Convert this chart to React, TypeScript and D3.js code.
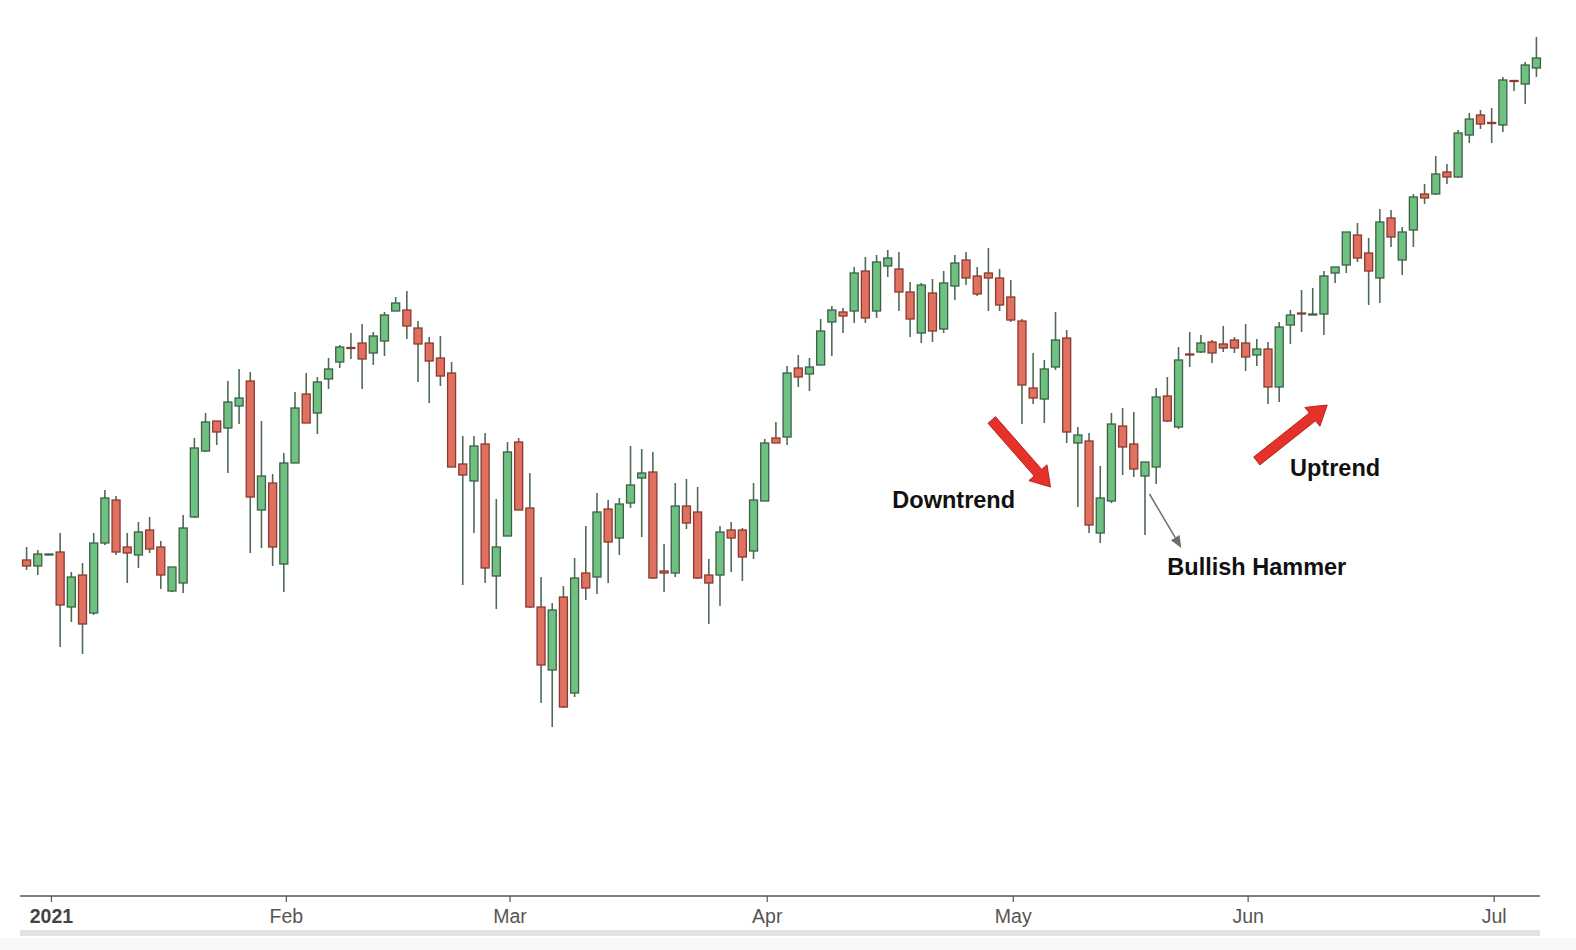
import React from 'react';
import * as d3 from 'd3';

// Trading calendar (weekdays) from first to last candle
const START_DATE = '2020-12-30';
const END_DATE = '2021-07-07';

const opens = [
  440, 434, 446, 448, 393, 425, 387, 457, 500, 453,
  445, 470, 453, 409, 417, 483, 549, 579, 572, 594,
  619, 490, 517, 436, 537, 606, 587, 621, 638, 652.5,
  657, 647, 659, 689, 690, 672, 657, 642, 627, 536,
  519, 556, 424, 464, 558, 492, 393, 330, 403, 307,
  427, 423, 491, 462, 497, 522, 528, 429, 427, 494,
  488, 425, 425, 470, 470, 449, 499, 562, 563, 632,
  626, 635, 678, 688, 689, 729, 689, 734, 731, 708,
  667, 707, 671, 714, 740, 724, 727, 722, 703, 679,
  612, 601, 633, 662, 557, 559, 467, 499, 574, 556,
  524, 533, 604, 573, 646, 648, 658, 656, 660, 657,
  645, 651, 613, 675, 687, 686, 686, 727, 735, 765,
  747, 722, 782, 740, 770, 806, 806, 828, 823, 865,
  885, 877.5, 875, 919.5, 916, 932,
];

const highs = [
  453, 450, 446, 467, 428, 437, 467, 510, 504, 467,
  478, 483, 459, 433, 485, 562, 587, 579, 619, 631,
  628, 579, 526, 547, 608, 627, 623, 642, 655, 667,
  676, 668, 688, 703, 709, 679, 663, 664, 638, 564,
  564, 567, 501, 558, 562, 527, 423, 397, 414, 442,
  474, 507, 500, 502, 554, 551, 548, 456, 517, 521,
  513, 441, 474, 478, 472, 517, 561, 578, 634, 645,
  642, 681, 694, 692, 733, 743, 745, 750, 748, 718,
  717, 721, 729, 745, 748, 733, 752, 731, 720, 681,
  647, 640, 688, 670, 573, 567, 534, 587, 592, 588,
  538, 612, 623, 653, 668, 665, 660, 674, 663, 676,
  661, 658, 678, 690, 710, 712, 729, 733, 768, 777,
  762, 791, 790, 773, 806, 816, 844, 836, 870, 887,
  890, 892, 923, 919.5, 938, 963,
];

const lows = [
  430, 425, 446, 353, 378, 346, 385, 455, 445, 417,
  432, 447, 411, 408, 407, 482, 548, 555, 527, 576,
  447, 452, 434, 408, 537, 577, 566, 611, 632, 641,
  611, 635, 644, 689, 661, 618, 597, 614, 533, 415,
  467, 417, 391, 464, 490, 392, 297, 273, 292, 303,
  400, 406, 417, 445, 492, 463, 421, 408, 423, 471,
  421, 376, 394, 428, 419, 441, 499, 557, 555, 613,
  609, 635, 644, 667, 677, 677, 682, 723, 689, 663,
  657, 658, 667, 700, 715, 704, 689, 689, 678, 576,
  596, 577, 630, 557, 493, 467, 457, 497, 525, 523,
  465, 516, 578, 571, 633, 647, 637, 648, 647, 629,
  634, 596, 598, 656, 668, 686, 665, 717, 727, 738,
  695, 697, 753, 725, 753, 796, 805, 816, 822, 857,
  871, 857, 868, 909, 896, 923,
];

const closes = [
  434, 446, 446, 395, 423, 376, 457, 502, 448, 447,
  468, 451, 425, 433, 472, 552, 578, 568, 598, 602,
  503, 524, 453, 537, 592, 577, 618, 631, 653, 652,
  641, 664, 685, 697, 674, 656, 639, 624, 533, 525,
  554, 432, 453, 548, 490, 393, 335, 390, 293, 422,
  412, 488, 458, 496, 515, 527, 422, 427, 494, 477,
  422, 417, 468, 462, 443, 500, 557, 557, 627, 623,
  633, 669, 690, 684, 727, 682, 738, 742, 708, 681,
  715, 669, 717, 737, 722, 706, 722, 695, 680, 615,
  602, 631, 660, 568, 565, 475, 502, 576, 553, 531,
  538, 603, 579, 640, 645, 657, 647, 652, 652, 643,
  651, 613, 673, 685, 686, 686, 724, 733, 768, 742,
  729, 778, 763, 768, 803, 802, 826, 823, 867, 881,
  876, 877, 920, 919, 935, 942,
];

const tickDates = ['2021-01-01', '2021-02-01', '2021-03-01', '2021-04-01', '2021-05-03', '2021-06-01', '2021-07-01'];
const tickLabels = ['2021', 'Feb', 'Mar', 'Apr', 'May', 'Jun', 'Jul'];

// Annotations in data space: [candle index, price]
const arrowDownFrom = [86.3, 580];
const arrowDownTo = [91.55, 513];
const arrowUpFrom = [110.0, 539];
const arrowUpTo = [116.3, 595];
const hammerArrowFrom = [100.4, 506];
const hammerArrowTo = [103.25, 452];
const labelTexts = ['Downtrend', 'Uptrend', 'Bullish Hammer'];
const labelPos = [[82.9, 492], [117.0, 524], [110.0, 425]];

const W = 1576;
const H = 950;

const GREEN_FILL = '#6fc181';
const GREEN_STROKE = '#3d5f47';
const RED_FILL = '#e0705f';
const RED_STROKE = '#8a3a2f';
const WICK = '#506a58';

function fatArrow(x1: number, y1: number, x2: number, y2: number, sw: number, hw: number, hl: number) {
  const dx = x2 - x1, dy = y2 - y1;
  const len = Math.hypot(dx, dy);
  const ux = dx / len, uy = dy / len;
  const nx = -uy, ny = ux;
  const bx = x2 - ux * hl, by = y2 - uy * hl;
  const pts = [
    [x1 + nx * sw, y1 + ny * sw],
    [bx + nx * sw, by + ny * sw],
    [bx + nx * hw, by + ny * hw],
    [x2, y2],
    [bx - nx * hw, by - ny * hw],
    [bx - nx * sw, by - ny * sw],
    [x1 - nx * sw, y1 - ny * sw],
  ];
  return 'M' + pts.map((p) => p[0].toFixed(2) + ',' + p[1].toFixed(2)).join('L') + 'Z';
}

export default function App() {
  const fmt = d3.utcFormat('%Y-%m-%d');
  const dates = d3
    .utcDays(new Date(START_DATE + 'T00:00:00Z'), d3.utcDay.offset(new Date(END_DATE + 'T00:00:00Z'), 1))
    .filter((d) => d.getUTCDay() !== 0 && d.getUTCDay() !== 6)
    .map(fmt);

  const x = d3.scaleBand<string>().domain(dates).range([21, 1542]).padding(0);
  const step = x.step();
  const cx = (d: string) => (x(d) as number) + step / 2;
  const idx = d3.scaleLinear().domain([0, dates.length - 1]).range([cx(dates[0]), cx(dates[dates.length - 1])]);
  const y = d3.scaleLinear().domain([50, 980]).range([950, 20]);

  const bodyW = 8;
  const axisY = 896;
  const tickShift = 2.5;

  const candles = dates.map((d, i) => ({
    d,
    o: opens[i],
    h: highs[i],
    l: lows[i],
    c: closes[i],
  }));

  const pt = (p: number[]) => [idx(p[0]), y(p[1])];
  const dA = pt(arrowDownFrom), dB = pt(arrowDownTo);
  const uA = pt(arrowUpFrom), uB = pt(arrowUpTo);
  const hA = pt(hammerArrowFrom), hB = pt(hammerArrowTo);
  const hdx = hB[0] - hA[0], hdy = hB[1] - hA[1];
  const hlen = Math.hypot(hdx, hdy);
  const hux = hdx / hlen, huy = hdy / hlen;
  const headL = 12, headW = 5;
  const hbx = hB[0] - hux * headL, hby = hB[1] - huy * headL;
  const hammerHead = `M${hB[0]},${hB[1]}L${hbx - huy * headW},${hby + hux * headW}L${hbx + huy * headW},${hby - hux * headW}Z`;

  return (
    <svg
      width={W}
      height={H}
      viewBox={`0 0 ${W} ${H}`}
      style={{ position: 'absolute', left: 0, top: 0, background: '#ffffff', fontFamily: 'Liberation Sans, Arial, Helvetica, sans-serif' }}
    >
      <rect x={0} y={0} width={W} height={H} fill="#ffffff" />
      <rect x={0} y={938} width={W} height={12} fill="#f7f7f7" />
      <rect x={20} y={930} width={1520} height={6} fill="#e4e4e7" />

      {candles.map((k) => {
        const up = k.c >= k.o;
        const top = y(Math.max(k.o, k.c));
        const bot = y(Math.min(k.o, k.c));
        const xc = cx(k.d);
        return (
          <g key={k.d}>
            <line x1={xc} x2={xc} y1={y(k.h)} y2={y(k.l)} stroke={WICK} strokeWidth={1.6} />
            <rect
              x={xc - bodyW / 2}
              y={top}
              width={bodyW}
              height={Math.max(1, bot - top)}
              fill={up ? GREEN_FILL : RED_FILL}
              stroke={up ? GREEN_STROKE : RED_STROKE}
              strokeWidth={1.3}
            />
          </g>
        );
      })}

      {/* x axis */}
      <line x1={20} x2={1540} y1={axisY} y2={axisY} stroke="#555" strokeWidth={1.5} />
      {tickDates.map((td, i) => (
        <g key={td} transform={`translate(${cx(td) + tickShift},${axisY})`}>
          <line y1={0} y2={6} stroke="#555" strokeWidth={1.2} />
          <text
            y={27}
            textAnchor="middle"
            fontSize={19.5}
            fill={i === 0 ? '#444' : '#555'}
            fontWeight={i === 0 ? 'bold' : 'normal'}
          >
            {tickLabels[i]}
          </text>
        </g>
      ))}

      {/* annotations */}
      <path d={fatArrow(dA[0], dA[1], dB[0], dB[1], 5, 12, 19)} fill="#e5312a" stroke="#b3241e" strokeWidth={1} />
      <path d={fatArrow(uA[0], uA[1], uB[0], uB[1], 5, 12, 19)} fill="#e5312a" stroke="#b3241e" strokeWidth={1} />
      <line x1={hA[0]} y1={hA[1]} x2={hbx} y2={hby} stroke="#6e6e6e" strokeWidth={1.5} />
      <path d={hammerHead} fill="#6e6e6e" />
      {labelTexts.map((t, i) => (
        <text
          key={t}
          x={idx(labelPos[i][0])}
          y={y(labelPos[i][1])}
          textAnchor="middle"
          fontSize={23.5}
          fontWeight="bold"
          fill="#111"
        >
          {t}
        </text>
      ))}
    </svg>
  );
}
